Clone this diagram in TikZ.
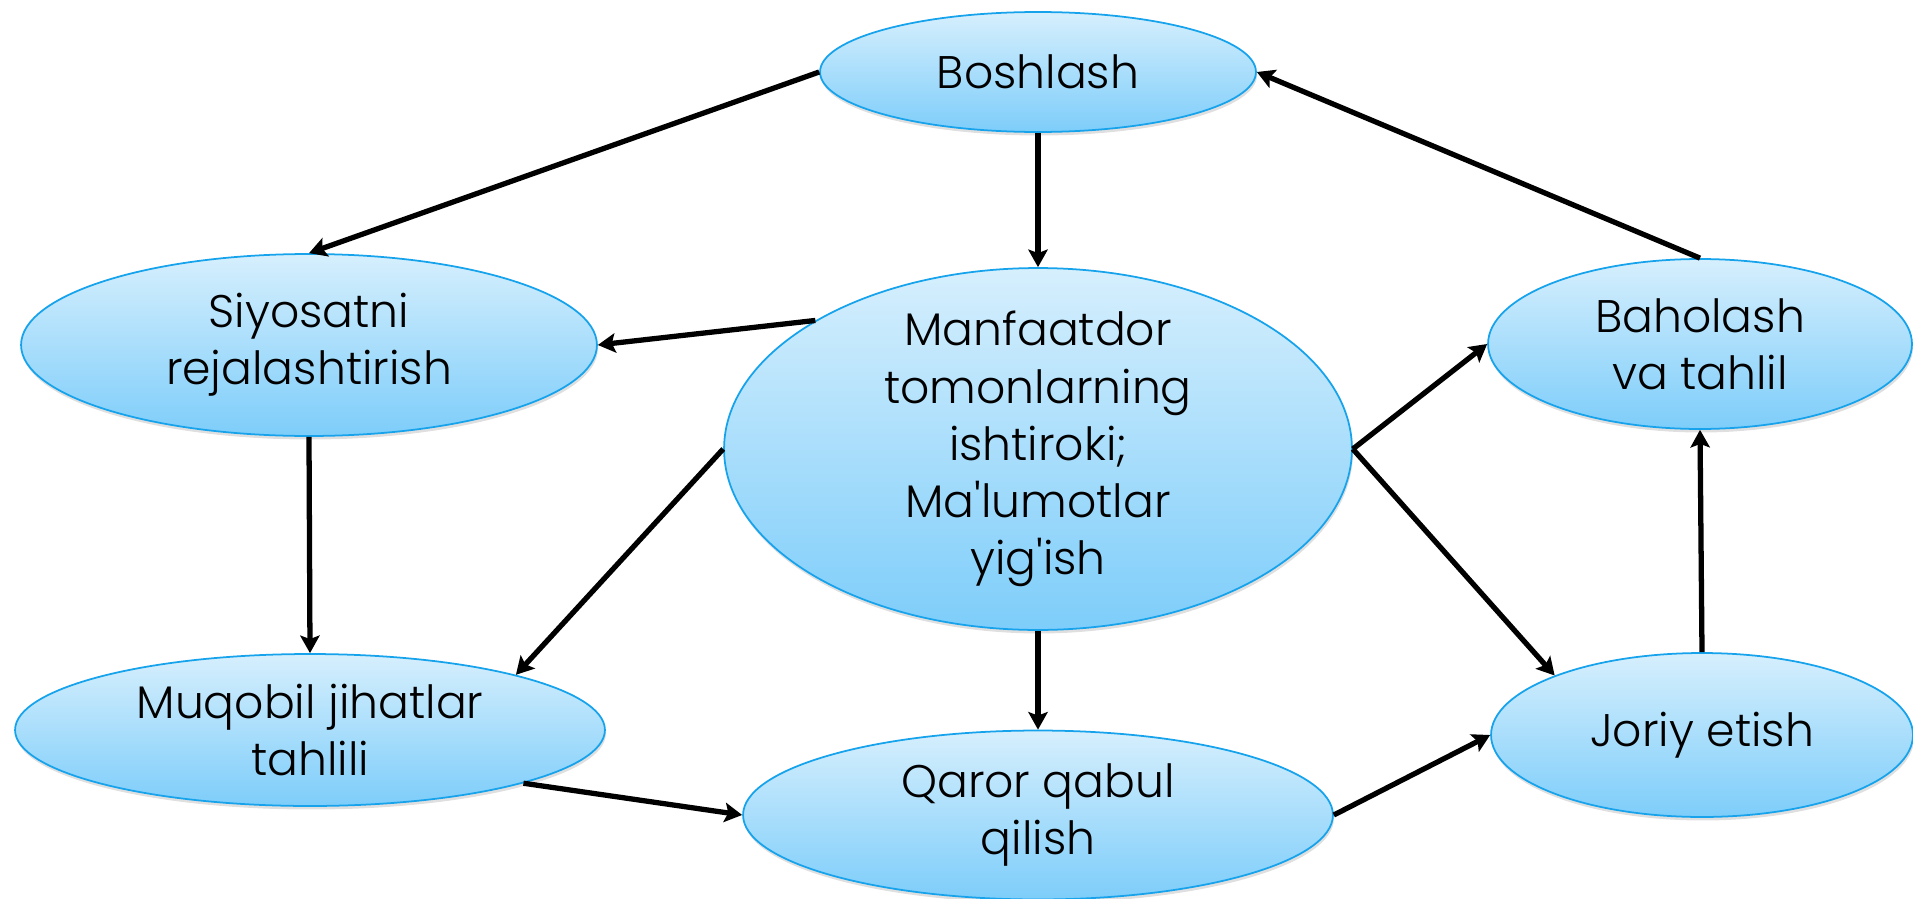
\documentclass[tikz,border=0pt]{standalone}
\usepackage{fontspec}
\setmainfont{Poppins}[UprightFont=* Light]
\usepackage{tikz}
\usetikzlibrary{arrows.meta, shapes, shadows, positioning, calc}

\definecolor{ovaltop}{RGB}{214,239,253}
\definecolor{ovalbottom}{RGB}{125,205,250}
\definecolor{ovaledge}{RGB}{22,163,236}

\begin{document}
\begin{tikzpicture}
  [> = {Stealth[length=10pt, width=11pt, inset=2pt]}, x=0.02cm, y=-0.02cm,
    oval/.style ={
        ellipse,
        draw=ovaledge,
        line width=1pt,
        top color=ovaltop,
        bottom color=ovalbottom,
        inner sep=0pt,
        drop shadow={opacity=0.25, shadow xshift=0.02cm, shadow yshift=-0.07cm},
      },
    txt/.style ={
        font=\fontsize{26}{32.5}\selectfont,
        align=center,
      },
    link/.style ={->, line width=3pt},
  ]
  \useasboundingbox (0,0) rectangle (1913,899);

  \node[oval, minimum width=8.72cm, minimum height=2.4cm, label={[txt]center:Boshlash}] (start) at (1038,72) {};
  \node[oval, minimum width=11.52cm, minimum height=3.64cm, label={[txt]center:{Siyosatni\\rejalashtirish}}] (plan) at (309,345) {};
  \node[oval, minimum width=12.56cm, minimum height=7.24cm, label={[txt]center:{Manfaatdor\\tomonlarning\\ishtiroki;\\Ma\textquotesingle lumotlar\\yig\textquotesingle ish}}] (stake) at (1038,449) {};
  \node[oval, minimum width=8.48cm, minimum height=3.4cm, label={[txt]center:{Baholash\\va tahlil}}] (review) at (1700,344) {};
  \node[oval, minimum width=11.8cm, minimum height=3.04cm, label={[txt]center:{Muqobil jihatlar\\tahlili}}] (options) at (310,730) {};
  \node[oval, minimum width=11.8cm, minimum height=3.38cm, label={[txt]center:{Qaror qabul\\qilish}}] (decide) at (1038,815) {};
  \node[oval, minimum width=8.44cm, minimum height=3.28cm, label={[txt]center:Joriy etish}] (apply) at (1702,735) {};

  \draw[link] (start.west) -- (plan.north);
  \draw[link] (start.south) -- (stake.north);
  \draw[link] (review.north) -- (start.east);
  \draw[link] (stake.150) -- (plan.east);
  \draw[link] (stake.west) -- (options.15);
  \draw[link] (plan.south) -- (options.north);
  \draw[link] (stake.south) -- (decide.north);
  \draw[link] (options.-14) -- (decide.west);
  \draw[link] (decide.east) -- (apply.west);
  \draw[link] (stake.east) -- (review.west);
  \draw[link] (stake.east) -- (apply.158);
  \draw[link] (apply.north) -- (review.south);
\end{tikzpicture}
\end{document}
